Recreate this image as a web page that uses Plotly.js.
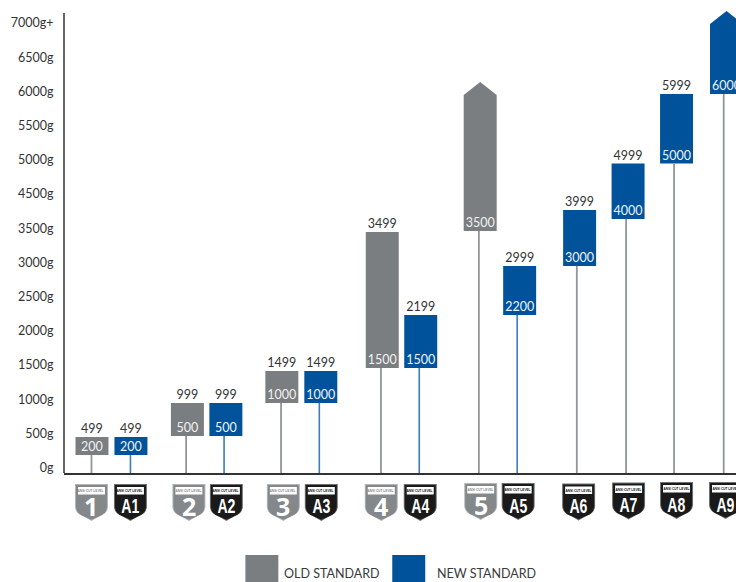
<!DOCTYPE html>
<html><head><meta charset="utf-8">
<script src="https://cdn.plot.ly/plotly-3.0.1.min.js"></script>
<style>html,body{margin:0;padding:0;background:#fff;overflow:hidden}</style>
</head><body><div id="chart" style="width:736px;height:582px"></div>
<script>
// Tick labels: the source axis skips 4000g, so labels are evenly spaced by position
const tickPositions = [-10,490,990,1490,1990,2490,2990,3490,3990,4490,4990,5490,5990,6490];
const tickLabels = ['0g','500g','1000g','1500g','2000g','2500g','3000g','3500g','4500g','5000g','5500g','6000g','6500g','7000g+'];

// Old standard levels
const oldNames = ['1','2','3','4','5'];
const oldX = [91.5,187,281.5,382,480];
const oldStemX = [91,185.7,280.7,380.7,478.7];
const oldBase = [175,453,936,1447,3450];
const oldTop = [439,936,1404,3436,5439];
const oldLow = ['200','500','1000','1500','3500'];
const oldHigh = ['499','999','1499','3499',''];
const oldTip = [null,null,null,null,5629];

// New standard levels
const newNames = ['A1','A2','A3','A4','A5','A6','A7','A8','A9'];
const newX = [130.5,225.5,320.5,420.5,519.5,579.5,628,676.5,726.5];
const newStemX = [130,223.7,319,419,517,576.7,626,674,723.7];
const newBase = [175,453,936,1447,2222,2939,3626,4437,5453];
const newTop = [439,936,1404,2222,2939,3757,4437,5453,6477];
const newLow = ['200','500','1000','1500','2200','3000','4000','5000','6000'];
const newHigh = ['499','999','1499','2199','2999','3999','4999','5999',''];
const newTip = [null,null,null,null,null,null,null,null,6667];
const newStemColors = ['b','b','b','b','b','g','g','g','g'];

// Badges
const oldBadgeX = [91,188.5,283,381,480.5];
const oldBadgeTop = [484,484,484,484,483];
const newBadgeX = [130,226,321,420,518,578.5,628.5,676.5,725.5];
const newBadgeTop = [484,484,484,484,483,483.5,482.5,482,482];

const GREY='#7b7e80', BLUE='#00529b', STEM_GREY='#929598', STEM_BLUE='#3b7dbb', TXT='#333333';
const FONT='Lato, "Open Sans", sans-serif';
const BARW=33;

// plot box in page pixels
const L=63.5,R=736,T=0,B=473;
const px=v=>(v-L)/(R-L), py=v=>(B-v)/(B-T);

function barTrace(name,x,base,top,color){
  return {type:'bar',name,x,base,y:top.map((t,i)=>t-base[i]),width:BARW,marker:{color,line:{width:0}},hoverinfo:'skip',showlegend:false};
}
function headTrace(x,top,tip,color){
  const xs=[],ys=[];
  tip.forEach((t,i)=>{ if(t!==null){xs.push(x[i]-BARW/2,x[i],x[i]+BARW/2,null);ys.push(top[i],t,top[i],null);} });
  return {type:'scatter',mode:'lines',x:xs,y:ys,fill:'toself',fillcolor:color,line:{width:0,color},cliponaxis:false,hoverinfo:'skip',showlegend:false};
}
function stemTrace(x,base,color,w){
  const xs=[],ys=[];
  x.forEach((v,i)=>{xs.push(v,v,null);ys.push(-88,base[i],null);});
  return {type:'scatter',mode:'lines',x:xs,y:ys,line:{color,width:w},hoverinfo:'skip',showlegend:false};
}
function textTrace(x,y,text,color){
  return {type:'scatter',mode:'text',x,y,text,textposition:'top center',cliponaxis:false,
    textfont:{family:FONT,size:12.5,color},hoverinfo:'skip',showlegend:false};
}
const newStemBlue=newStemColors.map(c=>c==='b');
const pick=(a,m,k)=>a.filter((_,i)=>m[i]===k);

const traces=[
  barTrace('Old standard',oldX,oldBase,oldTop,GREY),
  barTrace('New standard',newX,newBase,newTop,BLUE),
  headTrace(oldX,oldTop,oldTip,GREY),
  headTrace(newX,newTop,newTip,BLUE),
  stemTrace(oldStemX,oldBase,STEM_GREY,1.8),
  stemTrace(pick(newStemX,newStemBlue,true),pick(newBase,newStemBlue,true),STEM_BLUE,1.6),
  stemTrace(pick(newStemX,newStemBlue,false),pick(newBase,newStemBlue,false),STEM_GREY,1.8),
  textTrace(oldX,oldBase.map(v=>v+10),oldLow,'#f0f1f1'),
  textTrace(newX,newBase.map(v=>v+10),newLow,'#eef3f9'),
  textTrace(oldX,oldTop.map(v=>v+8),oldHigh,TXT),
  textTrace(newX,newTop.map(v=>v+8),newHigh,TXT)
];

const shapes=[],annotations=[];
function shieldPath(cx,top,w,h,inset){
  const x0=cx-w/2+inset,x1=cx+w/2-inset,y0=top+inset,yS=top+h*0.62,yM=top+h-4.8,yE=top+h-inset*1.2;
  const p=(x,y)=>px(x).toFixed(5)+','+py(y).toFixed(5);
  return 'M'+p(x0,y0)+' L'+p(x1,y0)+' L'+p(x1,yS)+' Q'+p(x1-0.5,yM-2.5)+' '+p(cx+8,yM)+' L'+p(cx,yE)+' L'+p(cx-8,yM)+' Q'+p(x0+0.5,yM-2.5)+' '+p(x0,yS)+' Z';
}
const NARROW='"Liberation Sans",sans-serif';
function badge(cx,top,label,isOld){
  const w=33,h=37;
  const body=isOld?'#85888a':'#1a1a1a';
  const outer=isOld?'#b4b6b8':'#6f6f6f';
  shapes.push({type:'path',xref:'paper',yref:'paper',path:shieldPath(cx,top,w,h,0),fillcolor:outer,line:{width:0},layer:'above'});
  shapes.push({type:'path',xref:'paper',yref:'paper',path:shieldPath(cx,top,w,h,1),fillcolor:body,line:{width:0},layer:'above'});
  shapes.push({type:'rect',xref:'paper',yref:'paper',x0:px(cx-13.5),x1:px(cx+13.5),y0:py(top+3),y1:py(top+10.5),fillcolor:'#ffffff',line:{width:0},layer:'above'});
  annotations.push({xref:'paper',yref:'paper',x:px(cx),y:py(top+6.8),text:'ANSI CUT LEVEL',showarrow:false,xanchor:'center',yanchor:'middle',
    font:{family:NARROW,size:4.3,weight:'bold',color:isOld?'#8c8c8c':'#111111'}});
  annotations.push({xref:'paper',yref:'paper',x:px(cx),y:py(top+22),text:label,showarrow:false,xanchor:'center',yanchor:'middle',
    font:{family:isOld?'"Open Sans",sans-serif':NARROW,size:isOld?25:21,weight:'bold',color:'#ffffff'}});
}
oldNames.forEach((n,i)=>badge(oldBadgeX[i],oldBadgeTop[i],n,true));
newNames.forEach((n,i)=>badge(newBadgeX[i],newBadgeTop[i],n,false));

// y axis line stops short of the top of the page
shapes.push({type:'line',xref:'paper',yref:'y',x0:0,x1:0,y0:-88,y1:6637,line:{color:'#333333',width:1.5},layer:'above'});

// legend swatches and labels
[[245,278,GREY,284,'OLD STANDARD'],[392,425,BLUE,437,'NEW STANDARD']].forEach(([a,b,c,tx,t])=>{
  shapes.push({type:'rect',xref:'paper',yref:'paper',x0:px(a),x1:px(b),y0:py(582),y1:py(555),fillcolor:c,line:{width:0}});
  annotations.push({xref:'paper',yref:'paper',x:px(tx),y:py(573),text:t,showarrow:false,xanchor:'left',yanchor:'middle',xshift:-2,
    font:{family:FONT,size:12.5,color:'#3a3a3a'}});
});

const layout={
  width:736,height:582,margin:{l:L,r:0,t:T,b:582-B,pad:0},
  paper_bgcolor:'#ffffff',plot_bgcolor:'#ffffff',barmode:'overlay',showlegend:false,
  font:{family:FONT,color:TXT},
  xaxis:{range:[L,R],showgrid:false,zeroline:false,showticklabels:false,ticks:'',showline:true,linecolor:'#333333',linewidth:1.5,fixedrange:true},
  yaxis:{range:[-88,6827],tickmode:'array',tickvals:tickPositions,ticktext:tickLabels,showgrid:false,zeroline:false,
    showline:false,ticks:'outside',ticklen:7,tickcolor:'rgba(0,0,0,0)',
    tickfont:{family:FONT,size:12.5,color:TXT},fixedrange:true},
  shapes,annotations
};
Plotly.newPlot('chart',traces,layout,{displayModeBar:false,staticPlot:true}).then(gd=>{
  // the badge lettering in the source is a condensed face: squeeze the real text to its width
  gd.querySelectorAll('.annotation-text').forEach(t=>{
    const s=t.textContent;
    let len=null;
    if(s==='ANSI CUT LEVEL') len=26;
    else if(/^A\d$/.test(s)) len=18;
    if(len){
      t.setAttribute('textLength',len);t.setAttribute('lengthAdjust','spacingAndGlyphs');
      // keep the squeezed text centred on its badge
      const box=t.getBBox(), ax=parseFloat(t.getAttribute('x'));
      if(!isNaN(ax)) t.setAttribute('x',ax+(ax-(box.x+box.width/2)));
    }
  });
});
</script></body></html>
